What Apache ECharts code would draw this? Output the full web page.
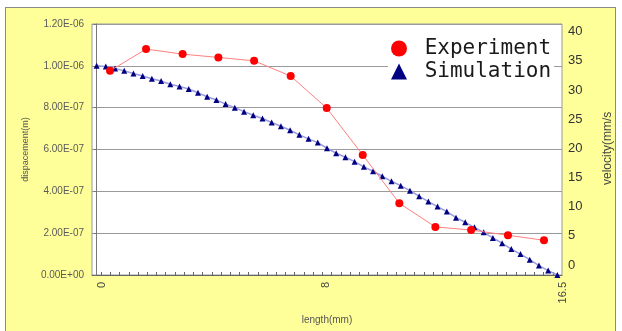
<!DOCTYPE html>
<html>
<head>
<meta charset="utf-8">
<script src="https://cdn.jsdelivr.net/npm/echarts@6/dist/echarts.min.js"></script>
<style>
  html, body { margin: 0; padding: 0; background: #ffffff; }
  #frame { position: absolute; left: 5px; top: 7px; width: 611px; height: 330px;
           background: #ffff99; border: 1px solid #8a8a8a; box-sizing: border-box; }
  #chart { position: absolute; left: 0; top: 0; width: 622px; height: 331px; }
</style>
</head>
<body>
<div id="frame"></div>
<div id="chart"></div>
<script>
// ---- data ----
// x positions (mm) of the simulation points
const simLength = [0,0.33,0.66,0.99,1.32,1.65,1.98,2.31,2.64,2.97,3.3,3.63,3.96,4.29,4.62,4.95,5.28,5.61,5.94,6.27,6.6,6.93,7.26,7.59,7.92,8.25,8.58,8.91,9.24,9.57,9.9,10.23,10.56,10.89,11.22,11.55,11.88,12.21,12.54,12.87,13.2,13.53,13.86,14.19,14.52,14.85,15.18,15.51,15.84,16.17,16.5];
// simulated displacement, in units of 1e-7 m
const simDisp = [10.00,9.97,9.87,9.76,9.63,9.51,9.38,9.27,9.12,9.01,8.89,8.71,8.52,8.37,8.17,8.00,7.81,7.64,7.48,7.29,7.11,6.92,6.70,6.51,6.33,6.06,5.82,5.63,5.42,5.17,4.96,4.72,4.48,4.27,4.03,3.77,3.51,3.27,3.03,2.74,2.52,2.28,2.04,1.77,1.52,1.24,1.00,0.73,0.45,0.21,0.00];
// experiment x positions (mm) and values, in units of 1e-7 m
const expLength = [0.48,1.77,3.08,4.36,5.64,6.95,8.24,9.53,10.84,12.13,13.41,14.73,16.02];
const expDisp = [9.76,10.80,10.56,10.40,10.24,9.51,7.98,5.74,3.43,2.30,2.15,1.90,1.66];
// tick labels
const xTickLabels = [0, 8, 16.5];
const seriesNames = ['Experiment', 'Simulation'];
const unit = 1e-7;

function sci(v) {
  const s = Number(v).toExponential(2).split('e');
  let e = parseInt(s[1], 10);
  const sign = e < 0 ? '-' : '+';
  e = Math.abs(e);
  return s[0] + 'E' + sign + (e < 10 ? '0' + e : '' + e);
}

// x axis frame: half a point spacing (0.33 mm) of padding on each side
const step = 0.33;
const xMin = -step / 2, xMax = 16.5 + step / 2;
const tickVals = [];
for (let k = 1; k <= 50; k++) tickVals.push(+(xMin + k * step).toFixed(4));

const chart = echarts.init(document.getElementById('chart'));
const font = 'Liberation Sans, Arial, sans-serif';

chart.setOption({
  animation: false,
  backgroundColor: 'transparent',
  grid: [
    { left: 92, right: 60, top: 24, bottom: 56, show: true, backgroundColor: '#ffffff',
      borderColor: '#9a9a9a', borderWidth: 1, containLabel: false },
    { left: 92, right: 60, top: 31.7, height: 233.3, show: false, containLabel: false }
  ],
  legend: {
    data: [
      { name: seriesNames[0], icon: 'circle' },
      { name: seriesNames[1], icon: 'triangle' }
    ],
    orient: 'vertical',
    left: 388, top: 37,
    itemWidth: 16, itemHeight: 16, itemGap: 2,
    padding: [1, 3, 1, 3],
    backgroundColor: '#ffffff',
    formatter: n => ' ' + n,
    textStyle: { fontFamily: 'DejaVu Sans Mono, monospace', fontSize: 21, color: '#1a1a1a' }
  },
  xAxis: [
    {
      type: 'value', gridIndex: 0, min: xMin, max: xMax,
      name: 'length(mm)', nameLocation: 'middle', nameGap: 40,
      nameTextStyle: { fontFamily: font, fontSize: 10, color: '#555' },
      axisLine: { show: true, lineStyle: { color: '#666', width: 1 } },
      axisTick: { show: true, inside: true, length: 3, customValues: tickVals, lineStyle: { color: '#666' } },
      axisLabel: { show: true, customValues: xTickLabels, rotate: 90, margin: 7,
                   verticalAlign: 'top',
                   fontFamily: font, fontSize: 11, color: '#444',
                   formatter: v => String(v) },
      splitLine: { show: false }
    },
    { type: 'value', gridIndex: 1, min: xMin, max: xMax, show: false }
  ],
  yAxis: [
    {
      type: 'value', gridIndex: 0, min: 0, max: 1.2e-6, interval: 2e-7,
      name: 'dispacement(m)', nameLocation: 'middle', nameGap: 62, nameRotate: 90,
      nameTextStyle: { fontFamily: font, fontSize: 9, color: '#555' },
      axisLine: { show: true, lineStyle: { color: '#777', width: 1 } },
      axisTick: { show: true, length: 3, lineStyle: { color: '#777' } },
      axisLabel: { margin: 8, fontFamily: font, fontSize: 10, color: '#5a5a5a', formatter: sci },
      splitLine: { show: true, lineStyle: { color: '#9a9a9a', width: 1 } }
    },
    {
      type: 'value', gridIndex: 1, position: 'right', min: 0, max: 40, interval: 5,
      name: 'velocity(mm/s', nameLocation: 'middle', nameGap: 45, nameRotate: 90,
      nameTextStyle: { fontFamily: font, fontSize: 12, color: '#444' },
      axisLine: { show: false }, axisTick: { show: false },
      axisLabel: { margin: 11, fontFamily: font, fontSize: 13, color: '#333' },
      splitLine: { show: false }
    }
  ],
  series: [
    {
      name: seriesNames[0], type: 'line', xAxisIndex: 0, yAxisIndex: 0,
      data: expLength.map((x, i) => [x, expDisp[i] * unit]),
      symbol: 'circle', symbolSize: 8,
      itemStyle: { color: '#ff0000' },
      lineStyle: { color: '#ff8080', width: 1 },
      z: 3
    },
    {
      name: seriesNames[1], type: 'line', xAxisIndex: 0, yAxisIndex: 0,
      data: simLength.map((x, i) => [x, simDisp[i] * unit]),
      symbol: 'triangle', symbolSize: 6,
      itemStyle: { color: '#000080' },
      lineStyle: { color: '#9a9ae0', width: 1.5 },
      z: 2
    }
  ]
});
</script>
</body>
</html>
